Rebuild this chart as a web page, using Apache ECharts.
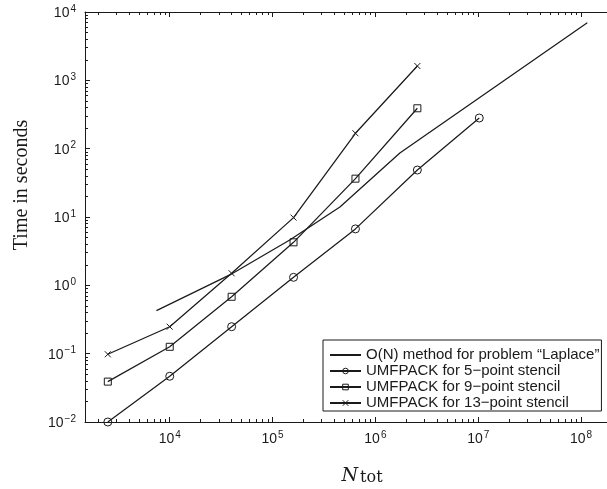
<!DOCTYPE html>
<html>
<head>
<meta charset="utf-8">
<script src="https://cdn.jsdelivr.net/npm/echarts@6/dist/echarts.min.js"></script>
<style>html,body{margin:0;padding:0;background:#fff}#c{width:607px;height:489px}</style>
</head>
<body>
<div id="c"></div>
<script>
// ---- data ----
const nGrid = [2500, 10000, 40000, 160000, 640000, 2560000, 10240000];
const time5pt = [0.0100, 0.0467, 0.248, 1.31, 6.7, 48.7, 281];
const time9pt = [0.039, 0.126, 0.68, 4.26, 36.4, 390];
const time13pt = [0.098, 0.248, 1.5, 9.8, 168, 1620];
const nLinear = [7430, 38400, 147000, 452000, 1730000, 115000000];
const timeLinear = [0.426, 1.42, 4.61, 14.0, 86.5, 6980];
const seriesNames = ['O(N) method for problem \u201cLaplace\u201d', 'UMFPACK for 5\u2212point stencil', 'UMFPACK for 9\u2212point stencil', 'UMFPACK for 13\u2212point stencil'];
const xMajorTicks = [1e4, 1e5, 1e6, 1e7, 1e8];
const yMajorTicks = [1e-2, 1e-1, 1e0, 1e1, 1e2, 1e3, 1e4];
const xRange = [1500, 2e8];
const yRange = [0.01, 10000];

function minorTicks(majors, lo, hi) {
  const out = [];
  const first = majors[0] / 10;
  for (let d = first; d <= hi * 1.0001; d *= 10) {
    for (let m = 2; m <= 9; m++) {
      const v = +(m * d).toPrecision(6);
      if (v >= lo && v <= hi) out.push(v);
    }
  }
  return out;
}
const xMinorTicks = minorTicks(xMajorTicks, xRange[0], xRange[1]);
const yMinorTicks = minorTicks(yMajorTicks, yRange[0], yRange[1]);

function zip(a, b) { return a.map((v, i) => [v, b[i]]); }

const INK = '#1a1a1a';
const labelFont = 'Liberation Sans';
function powLabel(v) {
  const e = Math.round(Math.log10(v));
  return '{b|10}{s|' + (e < 0 ? '\u2212' + (-e) : e) + '}';
}
const richPow = {
  b: { fontFamily: labelFont, fontSize: 14, color: INK, lineHeight: 16, verticalAlign: 'bottom' },
  s: { fontFamily: labelFont, fontSize: 10, color: INK, lineHeight: 16, verticalAlign: 'top', padding: [0, 0, 0, 1] }
};

function xAx(pos, ticks, len, line, labels) {
  return {
    type: 'log', logBase: 10, position: pos, min: xRange[0], max: xRange[1],
    axisLine: { show: line, lineStyle: { color: INK, width: 1 } },
    axisTick: { show: true, inside: true, length: len, customValues: ticks, lineStyle: { color: INK, width: 1 } },
    axisLabel: labels ? { show: true, customValues: xMajorTicks, formatter: powLabel, rich: richPow, margin: 8 } : { show: false },
    splitLine: { show: false }, minorTick: { show: false }
  };
}
function yAx(pos, ticks, len, line, labels) {
  return {
    type: 'log', logBase: 10, position: pos, min: yRange[0], max: yRange[1],
    axisLine: { show: line, lineStyle: { color: INK, width: 1 } },
    axisTick: { show: true, inside: true, length: len, customValues: ticks, lineStyle: { color: INK, width: 1 } },
    axisLabel: labels ? { show: true, customValues: yMajorTicks, formatter: powLabel, rich: richPow, margin: 9 } : { show: false },
    splitLine: { show: false }, minorTick: { show: false }
  };
}

const markerStyle = { color: 'rgba(0,0,0,0)', borderColor: INK, borderWidth: 1 };
const lineStyle = { color: INK, width: 1.25 };
const legendMarker = { color: 'rgba(0,0,0,0)', borderColor: INK, borderWidth: 1 };

const option = {
  animation: false,
  backgroundColor: '#fff',
  grid: { left: 85, right: -5, top: 12, bottom: 67, containLabel: false, outerBoundsMode: 'none' },
  xAxis: [
    xAx('bottom', xMajorTicks, 5, true, true),
    xAx('bottom', xMinorTicks, 3, false, false),
    xAx('top', xMajorTicks, 5, true, false),
    xAx('top', xMinorTicks, 3, false, false)
  ],
  yAxis: [
    yAx('left', yMajorTicks, 5, true, true),
    yAx('left', yMinorTicks, 3, false, false)
  ],
  legend: {
    orient: 'vertical', left: 323, top: 340,
    backgroundColor: '#fff', borderColor: INK, borderWidth: 1, borderRadius: 0,
    padding: [7, 2, 0, 6], itemWidth: 31, itemHeight: 7, itemGap: 0,
    textStyle: { fontFamily: labelFont, fontSize: 15, color: INK, lineHeight: 16 },
    data: [
      { name: seriesNames[0], itemStyle: { color: 'rgba(0,0,0,0)', borderWidth: 0 } },
      { name: seriesNames[1], itemStyle: legendMarker },
      { name: seriesNames[2], itemStyle: legendMarker },
      { name: seriesNames[3], itemStyle: legendMarker }
    ]
  },
  graphic: [
    {
      type: 'text', x: 22, y: 185, rotation: Math.PI / 2,
      style: { text: 'Time in seconds', fontFamily: 'Liberation Serif', fontSize: 20, fill: INK, align: 'center', verticalAlign: 'middle' }
    },
    {
      type: 'text', x: 362, y: 475,
      style: {
        text: '{n|N}{t|tot}', align: 'center', verticalAlign: 'middle',
        rich: {
          n: { fontFamily: 'DejaVu Serif', fontStyle: 'italic', fontSize: 19, fill: INK, lineHeight: 22, verticalAlign: 'bottom' },
          t: { fontFamily: 'DejaVu Serif', fontSize: 16, fill: INK, lineHeight: 14, verticalAlign: 'bottom', padding: [0, 0, 0, 2] }
        }
      }
    }
  ],
  series: [
    {
      name: seriesNames[0], type: 'line', data: zip(nLinear, timeLinear),
      showSymbol: false, symbol: 'circle', symbolSize: 0,
      itemStyle: { color: 'rgba(0,0,0,0)', borderWidth: 0 }, lineStyle: lineStyle, clip: false
    },
    {
      name: seriesNames[1], type: 'line', data: zip(nGrid, time5pt),
      symbol: 'circle', symbolSize: 8, showAllSymbol: true,
      itemStyle: markerStyle, lineStyle: lineStyle, clip: false
    },
    {
      name: seriesNames[2], type: 'line', data: zip(nGrid, time9pt),
      symbol: 'rect', symbolSize: 7, showAllSymbol: true,
      itemStyle: markerStyle, lineStyle: lineStyle, clip: false
    },
    {
      name: seriesNames[3], type: 'line', data: zip(nGrid, time13pt),
      symbol: 'path://M0,0L10,10M10,0L0,10', symbolSize: 6, showAllSymbol: true,
      itemStyle: markerStyle, lineStyle: lineStyle, clip: false
    }
  ]
};
const chart = echarts.init(document.getElementById('c'), null, { renderer: 'canvas' });
chart.setOption(option);
</script>
</body>
</html>
